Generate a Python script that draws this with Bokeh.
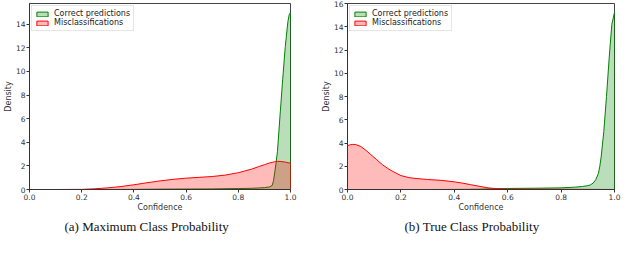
from bokeh.plotting import figure
from bokeh.layouts import row
from bokeh.models import FixedTicker, Title, Range1d
from bokeh.embed import file_html
from bokeh.resources import INLINE

# ---- data ----
# (a) Maximum Class Probability
mcp_correct_x = [0.0, 0.1, 0.2, 0.3, 0.4, 0.5, 0.6, 0.7, 0.8, 0.85, 0.88, 0.9, 0.92, 0.93,
                 0.935, 0.94, 0.945, 0.95, 0.96, 0.97, 0.98, 0.99, 0.995, 1.0]
mcp_correct_y = [0.0, 0.0, 0.0, 0.005, 0.01, 0.03, 0.04, 0.05, 0.08, 0.1, 0.13, 0.16, 0.22, 0.35,
                 0.75, 1.5, 2.3, 3.2, 6.3, 9.3, 12.1, 14.2, 14.8, 15.0]
mcp_mis_x = [0.0, 0.1, 0.2, 0.25, 0.3, 0.35, 0.4, 0.45, 0.5, 0.55, 0.6, 0.65, 0.7, 0.75, 0.8,
             0.85, 0.88, 0.9, 0.92, 0.94, 0.95, 0.96, 0.98, 1.0]
mcp_mis_y = [0.0, 0.0, 0.01, 0.06, 0.14, 0.25, 0.4, 0.57, 0.73, 0.86, 0.96, 1.03, 1.1, 1.22, 1.42,
             1.72, 1.95, 2.1, 2.25, 2.35, 2.38, 2.38, 2.32, 2.22]

# (b) True Class Probability
tcp_correct_x = [0.0, 0.3, 0.45, 0.5, 0.55, 0.6, 0.7, 0.8, 0.85, 0.88, 0.9, 0.91, 0.92, 0.93,
                 0.94, 0.945, 0.95, 0.96, 0.97, 0.98, 0.99, 1.0]
tcp_correct_y = [0.0, 0.0, 0.01, 0.03, 0.06, 0.09, 0.11, 0.14, 0.2, 0.26, 0.33, 0.4, 0.55, 0.85,
                 1.4, 2.0, 2.8, 5.0, 8.0, 11.3, 14.2, 15.24]
tcp_mis_x = [0.0, 0.01, 0.02, 0.03, 0.05, 0.07, 0.09, 0.11, 0.13, 0.15, 0.17, 0.2, 0.23, 0.26,
             0.3, 0.35, 0.4, 0.43, 0.46, 0.5, 0.53, 0.56, 0.6, 0.7, 0.8, 0.9, 1.0]
tcp_mis_y = [3.77, 3.85, 3.88, 3.87, 3.7, 3.35, 2.95, 2.55, 2.15, 1.82, 1.55, 1.2, 1.02, 0.94,
             0.86, 0.79, 0.66, 0.55, 0.42, 0.25, 0.13, 0.07, 0.04, 0.03, 0.02, 0.01, 0.0]

x_ticks = [0.0, 0.2, 0.4, 0.6, 0.8, 1.0]
x_tick_labels = ["0.0", "0.2", "0.4", "0.6", "0.8", "1.0"]
y_ticks_a = [0, 2, 4, 6, 8, 10, 12, 14]
y_ticks_b = [0, 2, 4, 6, 8, 10, 12, 14, 16]
y_max_a = 15.75
y_max_b = 16.0

series_names = ["Correct predictions", "Misclassifications"]
series_colors = ["green", "red"]
captions = ["(a) Maximum Class Probability", "(b) True Class Probability"]

AX_FONT = "DejaVu Sans"


def closed(xs, ys):
    return xs + [xs[-1], xs[0]], ys + [0.0, 0.0]


def panel(width, border_left, border_right, y_max, y_ticks, curves, caption, cap_offset):
    p = figure(width=width, height=235, output_backend="svg", toolbar_location=None,
               x_range=Range1d(0, 1), y_range=Range1d(0, y_max),
               min_border_left=border_left, min_border_right=border_right,
               min_border_top=3, min_border_bottom=40)
    for (xs, ys), name, col in zip(curves, series_names, series_colors):
        px, py = closed(xs, ys)
        p.patch(px, py, fill_color=col, fill_alpha=0.27, line_color=col, line_width=1,
                legend_label=name)
    p.xgrid.visible = False
    p.ygrid.visible = False
    p.outline_line_color = "#444444"
    p.background_fill_color = "white"
    for ax in (p.xaxis[0], p.yaxis[0]):
        ax.major_tick_in = 0
        ax.major_tick_out = 3
        ax.minor_tick_line_color = None
        ax.axis_line_color = "#333333"
        ax.major_tick_line_color = "#333333"
        ax.major_label_text_font = AX_FONT
        ax.major_label_text_font_size = "7.5px"
        ax.major_label_text_color = "#333333"
        ax.major_label_standoff = 1
        ax.axis_label_text_font = AX_FONT
        ax.axis_label_text_font_size = "8px"
        ax.axis_label_text_font_style = "normal"
        ax.axis_label_text_color = "#333333"
        ax.axis_label_standoff = 0
    p.xaxis.ticker = FixedTicker(ticks=x_ticks)
    p.xaxis.major_label_overrides = {t: l for t, l in zip(x_ticks, x_tick_labels)}
    p.yaxis.ticker = FixedTicker(ticks=y_ticks)
    p.xaxis.axis_label = "Confidence"
    p.yaxis.axis_label = "Density"

    lg = p.legend[0]
    lg.location = "top_left"
    lg.margin = 2
    lg.padding = 3
    lg.spacing = 0
    lg.label_text_font = AX_FONT
    lg.label_text_font_size = "8px"
    lg.label_text_color = "#222222"
    lg.label_height = 9
    lg.glyph_height = 6
    lg.glyph_width = 14
    lg.label_standoff = 5
    lg.border_line_color = "#cccccc"
    lg.background_fill_alpha = 0.85

    p.add_layout(Title(text=caption, align="left", offset=cap_offset,
                       text_font="Liberation Serif", text_font_size="13px",
                       text_font_style="normal", text_color="#111111", standoff=4), "below")
    return p


p1 = panel(318, 24, 28, y_max_a, y_ticks_a,
           [(mcp_correct_x, mcp_correct_y), (mcp_mis_x, mcp_mis_y)], captions[0], 35)
p2 = panel(306, 24, 10, y_max_b, y_ticks_b,
           [(tcp_correct_x, tcp_correct_y), (tcp_mis_x, tcp_mis_y)], captions[1], 57)

layout = row(p1, p2)
open("out.html", "w").write(file_html(layout, INLINE))
